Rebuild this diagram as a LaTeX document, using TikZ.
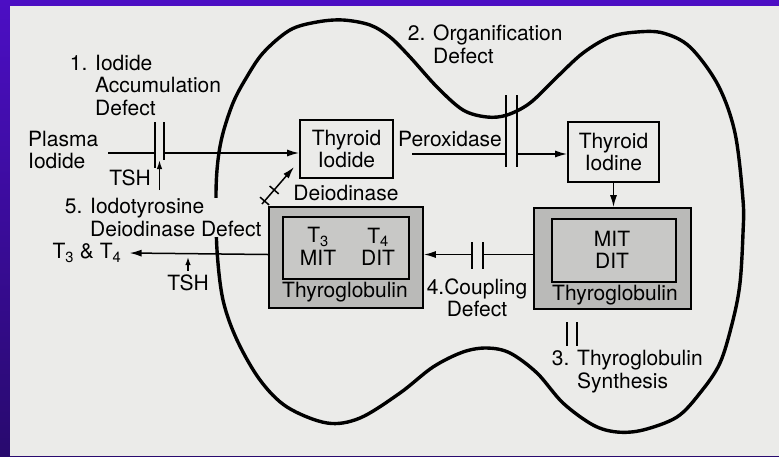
\documentclass[tikz,border=0pt]{standalone}
\usepackage{fontspec}
\setmainfont{TeX Gyre Heros}
\usetikzlibrary{arrows.meta,calc}
\definecolor{pagegray}{RGB}{235,235,233}
\definecolor{tgouter}{RGB}{186,186,184}
\definecolor{tginner}{RGB}{200,200,198}
\definecolor{frametop}{RGB}{76,14,196}
\definecolor{framebot}{RGB}{40,10,110}
\tikzset{
  lbl/.style={inner sep=0pt, font=\fontsize{21}{22.5}\selectfont},
  txtbox/.style={lbl, draw, line width=1.7pt, align=center},
  tgbox/.style={draw, line width=1.7pt, fill=tgouter},
  tginbox/.style={draw, line width=1.7pt, fill=tginner},
  wire/.style={line width=1.5pt},
  flow/.style={wire, -{Latex[length=12pt,width=7pt]}},
  bar/.style={line width=1.9pt},
  wall/.style={line width=3.4pt, line join=round},
}
\begin{document}
\begin{tikzpicture}[x=1pt, y=-1pt]
            \fill[top color=frametop, bottom color=framebot] (0,0) rectangle (779,456);
            \fill[pagegray] (10,6) rectangle (779,456);
            \draw[wall] plot[smooth cycle, tension=0.55] coordinates {
                (217,250) (216,193) (218,160) (223,133) (233,103) (245,80) (263,53) (290,30)
                (317,22) (343,20) (370,25) (390,37) (410,57) (437,87) (463,110) (487,117)
                (507,115) (530,103) (557,77) (583,53) (610,37) (637,32) (663,33) (690,47)
                (718,85) (735,133) (743,200) (743,233) (740,283) (733,320) (720,363) (700,393)
                (677,417) (643,430) (617,432) (593,425) (563,403) (537,373) (510,353) (487,348)
                (463,352) (433,367) (400,393) (360,418) (327,423) (287,407) (260,380) (237,340)
                (223,300)};
            \node[lbl, anchor=west, align=left] (accdef) at (95,85) {\llap{1. }Iodide\\Accumulation\\Defect};
            \node[lbl, anchor=west, align=left] (plasma) at (28,150) {Plasma\\Iodide};
            \node[lbl] (tsha) at (130,178) {TSH};
            \node[lbl, anchor=west, align=left] (orgdef) at (433,44.5) {\llap{2. }Organification\\Defect};
            \node[txtbox, minimum width=93pt, minimum height=58pt] (iodide) at (346.5,149) {Thyroid\\Iodide};
            \node[lbl] (perox) at (450,139) {Peroxidase};
            \node[lbl] (deio) at (346,193) {Deiodinase};
            \node[txtbox, minimum width=91pt, minimum height=60pt] (iodine) at (613.5,152) {Thyroid\\Iodine};
            \node[lbl, anchor=west, align=left, fill=pagegray] (deidef) at (90,217.5) {\llap{5. }Iodotyrosine\\Deiodinase Defect};
            \node[tgbox, minimum width=154pt, minimum height=101pt] (tgL) at (346,257.5) {};
            \node[tginbox, minimum width=126pt, minimum height=62pt] (tgLin) at (346,248) {};
            \node[lbl] (tthree) at (318,237) {T\textsubscript{3}};
            \node[lbl] (mitL) at (318,258) {MIT};
            \node[lbl] (tfour) at (378,237) {T\textsubscript{4}};
            \node[lbl] (ditL) at (378,258) {DIT};
            \node[lbl] (tgLname) at (345,292) {Thyroglobulin};
            \node[tgbox, minimum width=157pt, minimum height=101pt] (tgR) at (612.5,258.5) {};
            \node[tginbox, minimum width=124pt, minimum height=63pt] (tgRin) at (614,250.5) {};
            \node[lbl] (mitR) at (612,239) {MIT};
            \node[lbl] (ditR) at (612,261) {DIT};
            \node[lbl] (tgRname) at (615,295) {Thyroglobulin};
            \node[lbl, align=center] (coupdef) at (477,298) {4.Coupling\\Defect};
            \node[lbl] (tout) at (87,253) {T\textsubscript{3} \& T\textsubscript{4}};
            \node[lbl] (tshb) at (188,283) {TSH};
            \node[lbl, anchor=west, align=left] (syndef) at (577,371.5) {\llap{3. }Thyroglobulin\\Synthesis};
            \coordinate (plasmaEnd) at (108,153);
            \coordinate (accL) at (155,153);
            \coordinate (accR) at (164,153);
            \coordinate (tshaTail) at (159.5,190);
            \coordinate (peroxStart) at (412,154);
            \coordinate (orgL) at (506,154);
            \coordinate (orgR) at (517,154);
            \coordinate (coupR) at (483,254.5);
            \coordinate (coupL) at (472,254.5);
            \coordinate (tshbTail) at (188,271);
            \coordinate (deioTail) at (262,204);
            \coordinate (deioTip) at (294,167);
            \draw[bar] (155,122) -- (155,168);
            \draw[bar] (164,122) -- (164,160);
            \draw[bar] (506,95) -- (506,167);
            \draw[bar] (517,95) -- (517,167);
            \draw[bar] (472,242) -- (472,269);
            \draw[bar] (483,242) -- (483,269);
            \draw[bar] (567,322) -- (567,346);
            \draw[bar] (577,322) -- (577,346);
            \draw[wire] (plasmaEnd) -- (accL);
            \draw[flow] (accR) -- (iodide.west |- accR);
            \draw[wire, -{Latex[length=9pt,width=5.5pt]}] (tshaTail) -- ++(0,-30);
            \draw[wire] (peroxStart) -- (orgL);
            \draw[flow] (orgR) -- (iodine.west |- orgR);
            \draw[flow] (iodine.south) -- (iodine.south |- tgR.north);
            \draw[wire] (tgR.west |- coupR) -- (coupR);
            \draw[flow] (coupL) -- (tgL.east |- coupL);
            \draw[flow] (tgL.west |- coupL) -- ([xshift=8pt]tout.east);
            \draw[wire, -{Latex[length=8pt,width=5.5pt]}] (tshbTail) -- ++(0,-14);
            \draw[flow] (deioTail) -- (deioTip);
            \path (deioTail) -- (deioTip) coordinate[pos=.08] (kA) coordinate[pos=.38] (kB);
            \draw[wire] ($(kA)!6pt!90:(deioTip)$) -- ($(kA)!6pt!-90:(deioTip)$);
            \draw[wire] ($(kB)!6pt!90:(deioTip)$) -- ($(kB)!6pt!-90:(deioTip)$);
        \end{tikzpicture}
\end{document}
